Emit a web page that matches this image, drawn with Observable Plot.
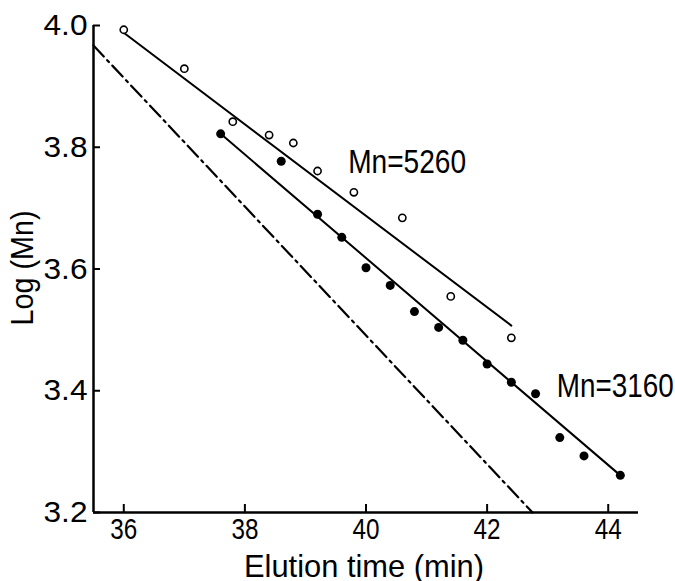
<!DOCTYPE html>
<html><head><meta charset="utf-8">
<script src="https://cdn.jsdelivr.net/npm/d3@7"></script>
<script src="https://cdn.jsdelivr.net/npm/@observablehq/plot@0.6"></script>
<style>
body{margin:0;background:#fff;}
#chart svg{display:block;}
</style></head><body><div id="chart"></div>
<script>
const openTime  = [36.0, 37.0, 37.8, 38.4, 38.8, 39.2, 39.8, 40.6, 41.4, 42.4];
const openLogMn = [3.993, 3.929, 3.842, 3.820, 3.807, 3.761, 3.726, 3.684, 3.555, 3.487];
const filledTime  = [37.6, 38.6, 39.2, 39.6, 40.0, 40.4, 40.8, 41.2, 41.6, 42.0, 42.4, 42.8, 43.2, 43.6, 44.2];
const filledLogMn = [3.822, 3.777, 3.690, 3.652, 3.602, 3.573, 3.530, 3.504, 3.483, 3.444, 3.414, 3.395, 3.323, 3.293, 3.261];
const fitOpenTime = [36.0, 42.4];
const fitOpenLogMn = [3.988, 3.507];
const fitFilledTime = [37.6, 44.2];
const fitFilledLogMn = [3.822, 3.261];
const refTime = [35.5, 42.75];
const refLogMn = [3.967, 3.2];
const labelText = ["Mn=5260", "Mn=3160"];
const labelTime = [39.705, 43.15];
const labelLogMn = [3.757, 3.389];
const xTicks = [36, 38, 40, 42, 44];
const yTicks = [3.2, 3.4, 3.6, 3.8, 4.0];
const xDomain = [35.5, 44.5];
const yDomain = [3.2, 4.0];
const xTitle = "Elution time (min)";
const yTitle = "Log (Mn)";

const zip = (xs, ys) => xs.map((x, i) => ({x, y: ys[i]}));
const openPts = zip(openTime, openLogMn);
const filledPts = zip(filledTime, filledLogMn);
const fitOpen = zip(fitOpenTime, fitOpenLogMn);
const fitFilled = zip(fitFilledTime, fitFilledLogMn);
const refLine = zip(refTime, refLogMn);
const labels = labelText.map((t, i) => ({t, x: labelTime[i], y: labelLogMn[i]}));

const font = "'Liberation Sans', Arial, sans-serif";
const W = 675, H = 581, mL = 93, mR = 37, mT = 25, mB = 69;
const frameW = W - mL - mR, frameH = H - mT - mB;

const chart = Plot.plot({
  width: W,
  height: H,
  marginLeft: mL,
  marginRight: mR,
  marginTop: mT,
  marginBottom: mB,
  style: {fontFamily: font, color: "#000", background: "#fff"},
  x: {domain: xDomain},
  y: {domain: yDomain},
  marks: [
    Plot.axisX(xTicks, {tickSize: 0, tickPadding: 5, fontSize: 30, label: null, tickFormat: d => String(d)}),
    Plot.axisY(yTicks, {tickSize: 0, tickPadding: 6, fontSize: 30, label: null, tickFormat: d => d.toFixed(1)}),
    Plot.tickX(xTicks, {x: d => d, insetTop: frameH - 8, stroke: "#000", strokeWidth: 2}),
    Plot.tickY(yTicks, {y: d => d, insetRight: frameW - 7, stroke: "#000", strokeWidth: 2}),
    Plot.ruleX([xDomain[0]], {strokeWidth: 2.5, stroke: "#000"}),
    Plot.ruleY([yDomain[0]], {strokeWidth: 2.5, stroke: "#000"}),
    Plot.line(refLine, {x: "x", y: "y", stroke: "#000", strokeWidth: 2.2, strokeDasharray: "15,5,2.5,5"}),
    Plot.line(fitOpen, {x: "x", y: "y", stroke: "#000", strokeWidth: 2}),
    Plot.line(fitFilled, {x: "x", y: "y", stroke: "#000", strokeWidth: 2}),
    Plot.dot(openPts, {x: "x", y: "y", r: 3.6, stroke: "#000", strokeWidth: 1.6, fill: "#fff"}),
    Plot.dot(filledPts, {x: "x", y: "y", r: 4.5, fill: "#000", stroke: "none"}),
    Plot.text(labels, {x: "x", y: "y", text: "t", textAnchor: "start", lineAnchor: "bottom", fontSize: 33, fill: "#000"}),
    Plot.text([xTitle], {text: d => d, frameAnchor: "bottom", dx: -2, dy: 64, lineAnchor: "bottom", textAnchor: "middle", fontSize: 32, fill: "#000"}),
    Plot.text([yTitle], {text: d => d, frameAnchor: "left", rotate: -90, dx: -61, dy: -1, lineAnchor: "bottom", textAnchor: "middle", fontSize: 32, fill: "#000"})
  ]
});

// condensed look of the original typeface (text stays real text)
const squeeze = (sel, len) => d3.select(chart).selectAll(sel)
  .attr("textLength", len).attr("lengthAdjust", "spacingAndGlyphs");
squeeze('g[aria-label="x-axis tick label"] text', 27);
squeeze('g[aria-label="y-axis tick label"] text', 44);
const titleLen = new Map([[labelText[0], 118], [labelText[1], 117], [xTitle, 240], [yTitle, 115]]);
d3.select(chart).selectAll('g[aria-label="text"] text').each(function() {
  const len = titleLen.get(this.textContent);
  if (len) d3.select(this).attr("textLength", len).attr("lengthAdjust", "spacingAndGlyphs");
});

document.getElementById("chart").appendChild(chart);
</script>
</body></html>
